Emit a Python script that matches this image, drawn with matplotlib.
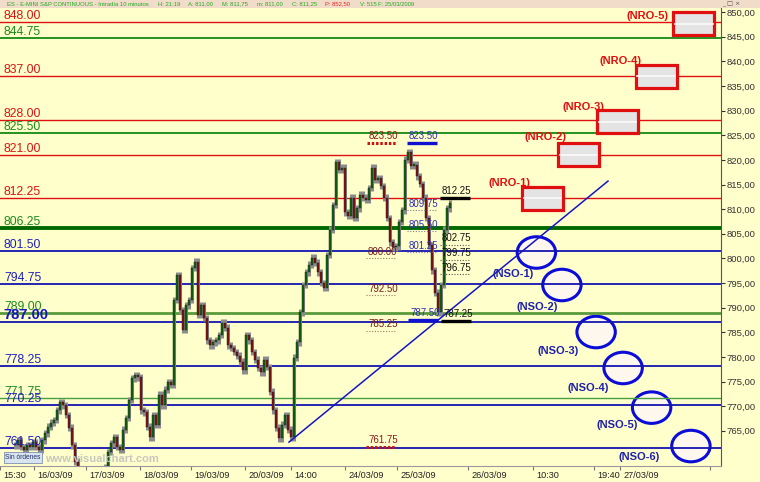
import matplotlib
matplotlib.use("Agg")
import matplotlib.pyplot as plt
import matplotlib.transforms as mtransforms
from matplotlib.patches import Rectangle, Ellipse
import numpy as np

plt.rcParams['font.family'] = ['Liberation Sans', 'DejaVu Sans']

# ---------------- data ----------------
closes = [762.1, 763.1, 761.7, 761.1, 762.1, 761.7, 762.7, 761.7, 761.1, 763.1,
          764.5, 765.8, 766.6, 767.2, 769.2, 770.8, 770.2, 768.2, 765.6, 762.1,
          758.7, 756.5, 755.8, 756.2, 755.5, 756.0, 755.2, 755.8, 756.4, 757.0,
          757.5, 760.7, 762.5, 763.7, 761.7, 761.1, 765.2, 767.6, 771.25, 775.7,
          776.3, 775.9, 769.2, 768.8, 765.8, 763.7, 768.2, 766.2, 772.3, 770.2,
          773.3, 774.9, 774.3, 791.55, 796.6, 789.5, 785.5, 790.5, 791.55, 798.05,
          799.3, 788.5, 790.5, 787.9, 783.4, 782.4, 783.0, 783.4, 784.45, 786.9,
          785.9, 782.4, 781.8, 781.0, 780.2, 779.0, 777.3, 784.45, 783.4, 781.0,
          779.4, 777.75, 776.9, 779.4, 777.95, 772.9, 769.2, 765.6, 763.5, 766.2,
          768.2, 765.2, 763.7, 779.8, 783.0, 789.1, 794.6, 797.2, 798.7, 800.1,
          799.1, 797.2, 795.0, 794.0, 800.7, 805.8, 810.85, 819.5, 817.95, 818.4,
          809.4, 808.6, 812.3, 808.2, 810.2, 812.9, 812.3, 811.9, 814.3, 818.4,
          816.0, 816.3, 814.7, 812.3, 808.2, 803.3, 802.3, 802.5, 807.4, 809.8,
          820.0, 821.6, 818.8, 819.0, 816.7, 815.1, 812.3, 808.2, 802.7, 797.6,
          793.0, 789.1, 794.6, 805.8, 810.2, 811.25]

level_values = [848.00, 844.75, 837.00, 828.00, 825.50, 821.00, 812.25, 806.25,
                801.50, 794.75, 789.00, 787.00, 778.25, 771.75, 770.25, 761.50]
level_kinds = ["R", "G", "R", "R", "G", "R", "R", "G",
               "B", "B", "G", "B", "B", "G", "B", "B"]

tick_pos = [-5, 6.33, 23.67, 41.67, 58.67, 76.67, 92, 110, 127.33, 151,
            172.67, 193, 201.67, 231.67]
tick_labels = ["15:30", "16/03/09", "17/03/09", "18/03/09", "19/03/09", "20/03/09",
               "14:00", "24/03/09", "25/03/09", "26/03/09", "10:30", "19:40",
               "27/03/09", ""]

trend_x = [91.33, 197.67]
trend_y = [762.7, 815.7]

ann_texts = ["823.50", "823.50", "812.25", "809.75", "805.50", "801.25", "802.75",
             "799.75", "796.75", "800.00", "792.50", "785.25", "787.50", "787.25",
             "761.75"]
ann_values = [823.50, 823.50, 812.25, 809.75, 805.50, 801.25, 802.75,
              799.75, 796.75, 800.00, 792.50, 785.25, 787.50, 787.25, 761.75]
ann_kind = ["reddot", "bluesolid", "blacksolid", "bluedot", "bluedot", "bluedot",
            "blackdot", "blackdot", "blackdot", "maroondot", "maroondot",
            "maroondot", "bluesolid", "blacksolid", "reddot"]
ann_x = [118, 131.3, 142.3, 131.3, 131.3, 131.3, 142.3, 142.3, 142.3,
         117.7, 117.7, 117.7, 131.7, 142.7, 117.7]

nro_labels = ["(NRO-1)", "(NRO-2)", "(NRO-3)", "(NRO-4)", "(NRO-5)"]
nro_levels = [812.25, 821.00, 827.7, 837.00, 847.6]
nro_box_x = [175.8, 187.8, 200.8, 213.7, 226.3]
nro_lab_x = [164.8, 176.8, 189.5, 201.8, 210.8]
nro_lab_y = [815.4, 824.55, 830.64, 840.08, 849.2]

nso_labels = ["(NSO-1)", "(NSO-2)", "(NSO-3)", "(NSO-4)", "(NSO-5)", "(NSO-6)"]
nso_cx = [173.8, 182.3, 193.7, 202.7, 212.2, 225.3]
nso_cy = [801.2, 794.6, 785.05, 777.75, 769.7, 761.9]
nso_lab_x = [166.0, 174.2, 181.2, 191.0, 200.8, 208.0]
nso_lab_y = [796.83, 790.23, 781.1, 773.6, 766.2, 759.7]

# ---------------- figure ----------------
W, H = 760, 482
BG = "#ffffcc"
fig = plt.figure(figsize=(W / 100, H / 100), dpi=100)
fig.patch.set_facecolor(BG)


def px_axes(l, t, r, b):
    return [l / W, 1 - b / H, (r - l) / W, (b - t) / H]


# header strip
fig.patches.append(Rectangle((0, 1 - 8 / H), 1, 8 / H, transform=fig.transFigure,
                             facecolor="#f0dcc8", edgecolor="none", zorder=0))
header = [(7, "ES - E-MINI S&P CONTINUOUS - Intradía 10 minutos", "#22aa22"),
          (158, "H: 21:19", "#22aa22"), (188, "A: 811,00", "#22aa22"),
          (222, "M: 811,75", "#22aa22"), (257, "m: 811,00", "#22aa22"),
          (292, "C: 811,25", "#22aa22"), (325, "P: 852,50", "#ee2222"),
          (360, "V: 515", "#22aa22"), (378, "F: 25/03/2009", "#22aa22")]
for hx, ht, hc in header:
    fig.text(hx / W, 1 - 4 / H, ht, color=hc, fontsize=4.2, va="center", ha="left")
fig.text(722 / W, 1 - 4.5 / H, "_ □ ×", color="#555555", fontsize=4.5,
         va="center", ha="left", family="DejaVu Sans")

ax = fig.add_axes(px_axes(0, 8, 721, 466))
ax.set_facecolor(BG)
ax.set_xlim(-5, 235.33)
ax.set_ylim(757.85, 850.84)

# levels
kind_color = {"R": "#e01010", "G": "#128a12", "B": "#1414b0"}
label_color = {"R": "#dd1111", "G": "#1a8a1a", "B": "#1f1fc0"}
bt = mtransforms.blended_transform_factory(ax.transAxes, ax.transData)
for v, k in zip(level_values, level_kinds):
    lw, col = 1.0, kind_color[k]
    if v == 806.25:
        lw, col = 2.8, "#006a00"
    elif v == 789.00:
        lw, col = 2.0, "#5a9a3c"
    elif v == 771.75:
        lw, col = 1.0, "#4aa040"
    elif k == "G":
        lw = 1.3
    elif k == "B":
        lw = 1.3
    ax.axhline(v, color=col, lw=lw, zorder=2)
    if v == 787.00:
        ax.text(3 / 721, v, f"{v:.2f}", transform=bt, color="#1414c8",
                fontsize=10.5, fontweight="bold", va="bottom", ha="left", zorder=5)
    else:
        ax.text(4 / 721, v, f"{v:.2f}", transform=bt, color=label_color[k],
                fontsize=8.7, va="bottom", ha="left", zorder=5)

# candles
c = np.array(closes)
idx = np.arange(len(c))
opens = np.r_[c[0], c[:-1]]
lo = np.minimum(opens, c)
hi = np.maximum(opens, c)
up = c >= opens
ax.vlines(idx, lo - 0.7, hi + 0.7, color="#8c8c8c", lw=2.2, zorder=3)
ax.bar(idx, np.maximum(hi - lo, 0.3), bottom=lo, width=0.85,
       color=np.where(up, "#0b6a0b", "#8a1010"), edgecolor="#1a1a1a",
       linewidth=0.3, zorder=4)

# trend line
ax.plot(trend_x, trend_y, color="#1515c8", lw=1.1, zorder=5)

# annotations
styles = {
    "reddot": ("#8a1a1a", "#cc1111", 2.2, (0, (0.8, 0.6))),
    "maroondot": ("#7a1a1a", "#9a7a60", 0.8, (0, (1, 1.5))),
    "bluedot": ("#3030b8", "#8080a0", 0.8, (0, (1, 1.5))),
    "blackdot": ("#111111", "#555555", 0.8, (0, (1, 1.5))),
    "bluesolid": ("#3030b8", "#1010d0", 2.4, "-"),
    "blacksolid": ("#111111", "#000000", 2.4, "-"),
}
for t, v, k, x in zip(ann_texts, ann_values, ann_kind, ann_x):
    tc, lc, llw, ls = styles[k]
    ax.text(x, v + 0.35, t, color=tc, fontsize=7, va="bottom", ha="left", zorder=7)
    ax.plot([x - 0.7, x + 9.3], [v, v], color=lc, lw=llw, ls=ls, zorder=6,
            solid_capstyle="butt")

# NRO boxes
for lab, lv, bx, lx, ly in zip(nro_labels, nro_levels, nro_box_x, nro_lab_x, nro_lab_y):
    w, h = 13.7, 4.67
    ax.add_patch(Rectangle((bx - w / 2, lv - h / 2), w, h, facecolor="#e4e4e4",
                           edgecolor="#e01010", lw=2.3, zorder=6, clip_on=False))
    ax.plot([bx - w / 2 + 0.6, bx + w / 2 - 0.6], [lv, lv], color="#fafafa",
            lw=1.2, zorder=6.5)
    ax.text(lx, ly, lab, color="#e01010", fontsize=8, fontweight="bold",
            va="center", ha="center", zorder=7)

# NSO circles
for lab, cx, cy, lx, ly in zip(nso_labels, nso_cx, nso_cy, nso_lab_x, nso_lab_y):
    ax.add_patch(Ellipse((cx, cy), 12.8, 6.4, facecolor="#fdf7ee",
                         edgecolor="#0c0cd8", lw=2.2, zorder=1.5))
    ax.text(lx, ly, lab, color="#2020b0", fontsize=8, fontweight="bold",
            va="center", ha="center", zorder=7)

# axes styling
for s in ["left", "top"]:
    ax.spines[s].set_visible(False)
ax.spines["right"].set_color("#555555")
ax.spines["bottom"].set_color("#999999")
ax.yaxis.tick_right()
ax.set_yticks(np.arange(765, 851, 5))
ax.set_yticklabels([f"{v:.2f}".replace(".", ",") for v in np.arange(765, 851, 5)])
ax.tick_params(axis="y", direction="out", length=3, width=0.8, pad=1,
               labelsize=6.8, labelcolor="#333333", color="#333333")
ax.set_xticks(tick_pos)
ax.set_xticklabels(tick_labels, ha="left")
ax.tick_params(axis="x", direction="out", length=3, width=0.8, pad=0.5,
               labelsize=6.6, labelcolor="#222222", color="#777777")
off = mtransforms.ScaledTranslation(2.5 / 72, 0, fig.dpi_scale_trans)
for lbl in ax.get_xticklabels():
    lbl.set_transform(lbl.get_transform() + off)

# small footer items
fig.patches.append(Rectangle((4 / W, 1 - 463 / H), 38 / W, 11 / H,
                             transform=fig.transFigure, facecolor="#d8e4f0",
                             edgecolor="#7f8fb0", lw=0.6, zorder=10))
fig.text(23 / W, 1 - 457.5 / H, "Sin órdenes", fontsize=4.8, color="#223366",
         ha="center", va="center", zorder=11)
fig.text(45 / W, 1 - 459.5 / H, "www.visualchart.com", fontsize=8,
         fontweight="bold", color="#c8c8c0", ha="left", va="center", zorder=11)

fig.savefig("out.png", dpi=100, facecolor=BG)
